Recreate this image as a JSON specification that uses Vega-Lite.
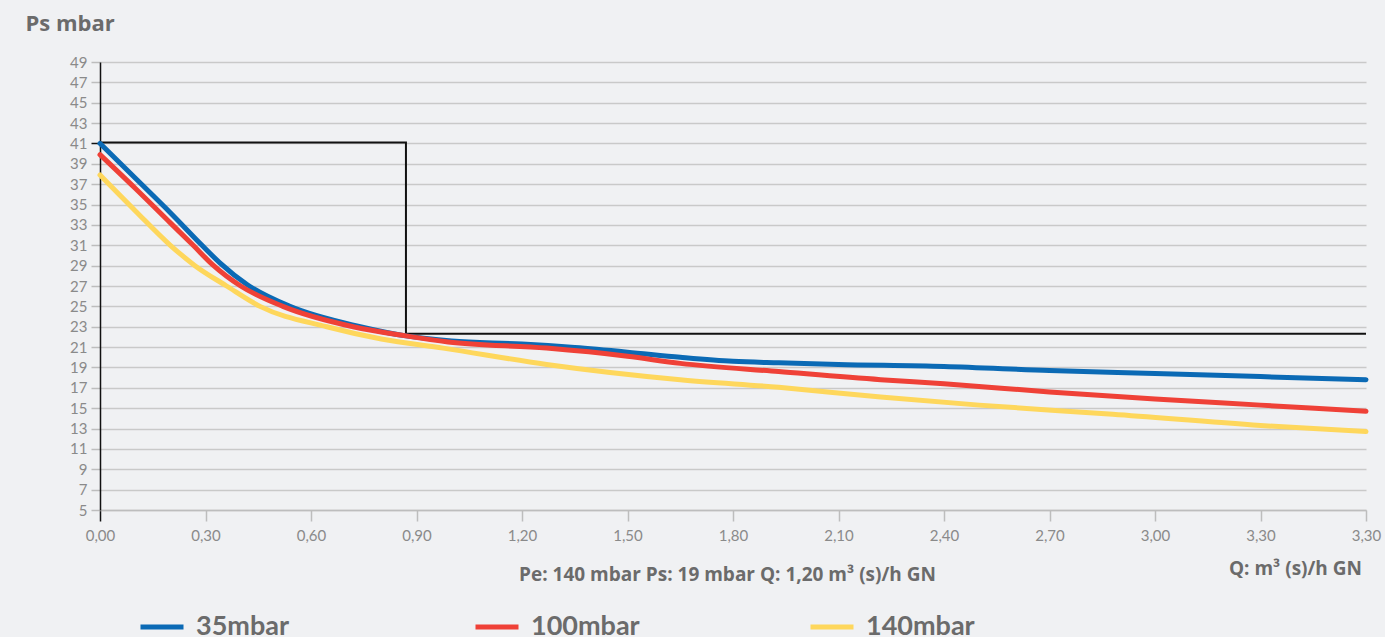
{
  "$schema": "https://vega.github.io/schema/vega-lite/v6.json",
  "autosize": "none",
  "width": 1266,
  "height": 448,
  "padding": {"left": 100, "top": 62, "right": 19, "bottom": 127},
  "background": "#f0f1f3",
  "config": {
    "view": {"stroke": null},
    "font": "Lato",
    "axis": {"labelFont": "Lato", "titleFont": "Open Sans"},
    "legend": {"labelFont": "Lato"}
  },
  "datasets": {
    "curves": [
      {"serie": "35mbar", "q": 0.0, "ps": 41.0},
      {"serie": "35mbar", "q": 0.1, "ps": 37.6},
      {"serie": "35mbar", "q": 0.2, "ps": 34.2},
      {"serie": "35mbar", "q": 0.29, "ps": 31.0},
      {"serie": "35mbar", "q": 0.34, "ps": 29.3},
      {"serie": "35mbar", "q": 0.42, "ps": 27.1},
      {"serie": "35mbar", "q": 0.54, "ps": 25.0},
      {"serie": "35mbar", "q": 0.74, "ps": 23.0},
      {"serie": "35mbar", "q": 0.87, "ps": 22.1},
      {"serie": "35mbar", "q": 1.0, "ps": 21.6},
      {"serie": "35mbar", "q": 1.2, "ps": 21.3},
      {"serie": "35mbar", "q": 1.35, "ps": 20.95},
      {"serie": "35mbar", "q": 1.5, "ps": 20.5},
      {"serie": "35mbar", "q": 1.65, "ps": 20.0},
      {"serie": "35mbar", "q": 1.8, "ps": 19.6},
      {"serie": "35mbar", "q": 1.93, "ps": 19.45},
      {"serie": "35mbar", "q": 2.1, "ps": 19.3},
      {"serie": "35mbar", "q": 2.4, "ps": 19.1},
      {"serie": "35mbar", "q": 2.7, "ps": 18.7},
      {"serie": "35mbar", "q": 3.0, "ps": 18.4},
      {"serie": "35mbar", "q": 3.3, "ps": 18.1},
      {"serie": "35mbar", "q": 3.6, "ps": 17.8},
      {"serie": "100mbar", "q": 0.0, "ps": 39.9},
      {"serie": "100mbar", "q": 0.1, "ps": 36.6},
      {"serie": "100mbar", "q": 0.2, "ps": 33.2},
      {"serie": "100mbar", "q": 0.265, "ps": 31.0},
      {"serie": "100mbar", "q": 0.32, "ps": 29.1},
      {"serie": "100mbar", "q": 0.4, "ps": 27.0},
      {"serie": "100mbar", "q": 0.52, "ps": 25.0},
      {"serie": "100mbar", "q": 0.72, "ps": 23.0},
      {"serie": "100mbar", "q": 0.87, "ps": 22.1},
      {"serie": "100mbar", "q": 0.99, "ps": 21.5},
      {"serie": "100mbar", "q": 1.27, "ps": 20.9},
      {"serie": "100mbar", "q": 1.5, "ps": 20.1},
      {"serie": "100mbar", "q": 1.65, "ps": 19.4},
      {"serie": "100mbar", "q": 1.93, "ps": 18.6},
      {"serie": "100mbar", "q": 2.22, "ps": 17.8},
      {"serie": "100mbar", "q": 2.4, "ps": 17.4},
      {"serie": "100mbar", "q": 2.7, "ps": 16.6},
      {"serie": "100mbar", "q": 3.0, "ps": 15.9},
      {"serie": "100mbar", "q": 3.3, "ps": 15.3},
      {"serie": "100mbar", "q": 3.6, "ps": 14.7},
      {"serie": "140mbar", "q": 0.0, "ps": 37.9},
      {"serie": "140mbar", "q": 0.1, "ps": 34.4},
      {"serie": "140mbar", "q": 0.2, "ps": 31.0},
      {"serie": "140mbar", "q": 0.27, "ps": 29.0},
      {"serie": "140mbar", "q": 0.36, "ps": 27.0},
      {"serie": "140mbar", "q": 0.455, "ps": 25.0},
      {"serie": "140mbar", "q": 0.645, "ps": 23.0},
      {"serie": "140mbar", "q": 0.8, "ps": 21.8},
      {"serie": "140mbar", "q": 0.976, "ps": 20.9},
      {"serie": "140mbar", "q": 1.27, "ps": 19.3},
      {"serie": "140mbar", "q": 1.65, "ps": 17.8},
      {"serie": "140mbar", "q": 1.93, "ps": 17.05},
      {"serie": "140mbar", "q": 2.22, "ps": 16.1},
      {"serie": "140mbar", "q": 2.5, "ps": 15.3},
      {"serie": "140mbar", "q": 2.88, "ps": 14.4},
      {"serie": "140mbar", "q": 3.3, "ps": 13.3},
      {"serie": "140mbar", "q": 3.6, "ps": 12.7}
    ],
    "box": [
      {"q": 0.0, "ps": 41.1, "k": 1},
      {"q": 0.87, "ps": 41.1, "k": 2},
      {"q": 0.87, "ps": 22.3, "k": 3},
      {"q": 3.6, "ps": 22.3, "k": 4}
    ],
    "notes": [
      {"q": 3.6, "ps": 5, "label": "Q: m³ (s)/h GN"}
    ]
  },
  "layer": [
    {
      "data": {"name": "box"},
      "mark": {"type": "line", "color": "#111111", "strokeWidth": 2, "clip": false},
      "encoding": {
        "x": {
          "field": "q", "type": "quantitative",
          "scale": {"domain": [0, 3.6], "nice": false, "zero": false},
          "axis": {
            "values": [0, 0.3, 0.6, 0.9, 1.2, 1.5, 1.8, 2.1, 2.4, 2.7, 3.0, 3.3, 3.6],
            "tickCount": 30,
            "labelExpr": "datum.value > 3.5 ? '3,30' : replace(format(datum.value, '.2f'), '.', ',')",
            "grid": false,
            "domainColor": "#bdbdbd",
            "domainWidth": 1.5,
            "tickColor": {"condition": {"test": "datum.value == 0", "value": "#111111"}, "value": "#bdbdbd"},
            "tickWidth": 1.5,
            "tickSize": 11,
            "labelColor": "#8a8a8a",
            "labelFontSize": 15,
            "labelPadding": 7,
            "labelOverlap": false,
            "labelFlush": false,
            "title": "Pe: 140 mbar Ps: 19 mbar Q: 1,20 m³ (s)/h GN",
            "titleColor": "#6b6b6b",
            "titleFontSize": 19,
            "titleFontWeight": "bold",
            "titleBaseline": "alphabetic",
            "titleY": 70,
            "titleX": 627
          }
        },
        "y": {
          "field": "ps", "type": "quantitative",
          "scale": {"domain": [5, 49], "nice": false, "zero": false},
          "axis": {
            "values": [5, 7, 9, 11, 13, 15, 17, 19, 21, 23, 25, 27, 29, 31, 33, 35, 37, 39, 41, 43, 45, 47, 49],
            "tickCount": 30,
            "grid": true,
            "gridColor": "#c9c9c9",
            "gridWidth": 1.5,
            "domainColor": "#111111",
            "domainWidth": 1.5,
            "tickColor": {"condition": {"test": "datum.value == 41", "value": "#111111"}, "value": "#bdbdbd"},
            "tickWidth": 1.5,
            "tickSize": 9,
            "labelColor": "#8a8a8a",
            "labelFontSize": 15,
            "labelPadding": 4,
            "labelOverlap": false,
            "title": "Ps mbar",
            "titleAngle": 0,
            "titleAlign": "left",
            "titleBaseline": "alphabetic",
            "titleX": -75,
            "titleY": -32,
            "titleColor": "#6b6b6b",
            "titleFontSize": 22,
            "titleFontWeight": "bold"
          }
        },
        "order": {"field": "k", "type": "quantitative"}
      }
    },
    {
      "data": {"name": "curves"},
      "mark": {"type": "line", "strokeWidth": 5, "strokeCap": "round", "interpolate": "monotone"},
      "encoding": {
        "x": {"field": "q", "type": "quantitative"},
        "y": {"field": "ps", "type": "quantitative"},
        "color": {
          "field": "serie", "type": "nominal",
          "scale": {"domain": ["35mbar", "100mbar", "140mbar"], "range": ["#0b6ab5", "#ef4137", "#fed75c"]},
          "legend": {
            "title": null,
            "orient": "none",
            "legendX": 38,
            "legendY": 541,
            "direction": "horizontal",
            "columns": 3,
            "gridAlign": "all",
            "columnPadding": 160,
            "symbolType": "stroke",
            "symbolSize": 1849,
            "symbolStrokeWidth": 5,
            "labelFontSize": 27,
            "labelFontWeight": "bold",
            "labelColor": "#6b6b6b",
            "labelOffset": 10,
            "labelLimit": 300
          }
        }
      }
    },
    {
      "data": {"name": "notes"},
      "mark": {"type": "text", "align": "right", "baseline": "alphabetic", "dy": 65, "dx": -4, "font": "Open Sans", "fontSize": 19, "fontWeight": "bold", "color": "#6b6b6b", "clip": false},
      "encoding": {
        "x": {"field": "q", "type": "quantitative"},
        "y": {"field": "ps", "type": "quantitative"},
        "text": {"field": "label"}
      }
    }
  ]
}
